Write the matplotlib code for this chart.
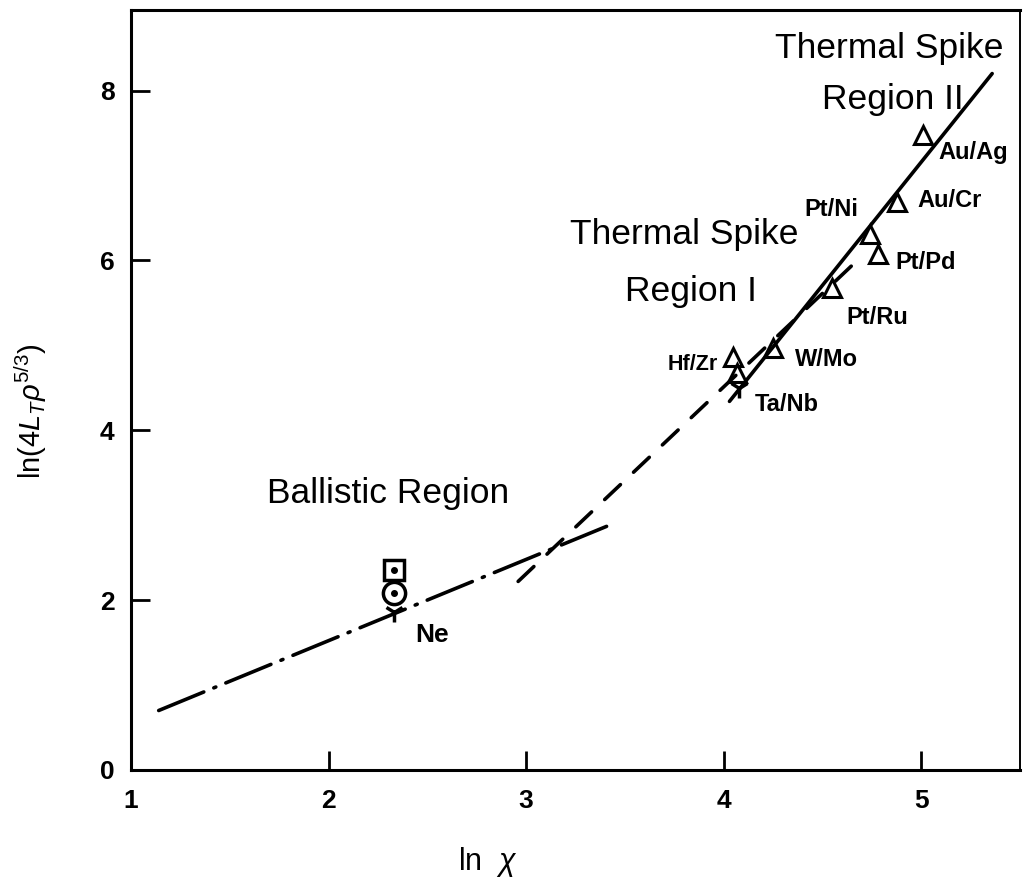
import numpy as np
import matplotlib
matplotlib.use("Agg")
import matplotlib.pyplot as plt

plt.rcParams['font.family'] = ['Liberation Sans', 'DejaVu Sans']
plt.rcParams['mathtext.fontset'] = 'custom'
plt.rcParams['mathtext.rm'] = 'Liberation Sans'
plt.rcParams['mathtext.it'] = 'Liberation Sans:italic'

# thermal spike data points (triangles)
pair_names = ['Hf/Zr', 'Hf/Zr', 'W/Mo', 'Pt/Ru', 'Pt/Pd', 'Pt/Ni', 'Au/Cr', 'Au/Ag']
pair_x = [4.05, 4.07, 4.25, 4.55, 4.78, 4.74, 4.88, 5.01]
pair_y = [4.86, 4.67, 4.97, 5.68, 6.08, 6.31, 6.69, 7.48]

# Ta/Nb and Ne (ballistic) points
tanb_x, tanb_y = 4.08, 4.50
ne_x = 2.33
ne_square_y = 2.36
ne_circle_y = 2.08
ne_star_y = 1.86

# fitted lines
ballistic_x = [1.14, 3.42]
ballistic_y = [0.70, 2.88]
region1_x = [2.96, 4.65]
region1_y = [2.22, 5.94]
region2_x = [4.03, 5.36]
region2_y = [4.34, 8.20]

fig = plt.figure(figsize=(10.27, 8.89), dpi=100)
ax = fig.add_axes([0.1276, 0.1339, 0.8654, 0.855])

lw = 2.6
ax.plot(ballistic_x, ballistic_y, color='black', lw=lw,
        dashes=(13.5, 3.0, 0.6, 3.0), solid_capstyle='round', dash_capstyle='round')
ax.plot(region1_x, region1_y, color='black', lw=lw,
        dashes=(6.0, 5.0), dash_capstyle='round')
ax.plot(region2_x, region2_y, color='black', lw=lw, solid_capstyle='round')

ax.plot(pair_x, pair_y, linestyle='none', marker='^', markersize=13,
        markerfacecolor='none', markeredgecolor='black', markeredgewidth=2.2)
ax.plot([tanb_x], [tanb_y], linestyle='none', marker='1', markersize=14,
        color='black', markeredgewidth=2.5)

# Ne points
ax.plot([ne_x], [ne_square_y], linestyle='none', marker='s', markersize=15,
        markerfacecolor='none', markeredgecolor='black', markeredgewidth=2.5)
ax.plot([ne_x], [ne_circle_y], linestyle='none', marker='o', markersize=16,
        markerfacecolor='none', markeredgecolor='black', markeredgewidth=2.5)
ax.plot([ne_x, ne_x], [ne_square_y, ne_circle_y], linestyle='none', marker='o',
        markersize=4, color='black')
ax.plot([ne_x], [ne_star_y], linestyle='none', marker='1', markersize=14,
        color='black', markeredgewidth=2.5)

# point labels
lab_kw = dict(fontsize=17, fontweight='bold', va='center')
ax.text(5.09, 7.27, 'Au/Ag', ha='left', **lab_kw)
ax.text(4.98, 6.70, 'Au/Cr', ha='left', **lab_kw)
ax.text(4.68, 6.60, 'Pt/Ni', ha='right', **lab_kw)
ax.text(4.87, 5.97, 'Pt/Pd', ha='left', **lab_kw)
ax.text(4.62, 5.33, 'Pt/Ru', ha='left', **lab_kw)
ax.text(4.36, 4.83, 'W/Mo', ha='left', **lab_kw)
ax.text(3.97, 4.78, 'Hf/Zr', ha='right', fontsize=15.5, fontweight='bold', va='center')
ax.text(4.16, 4.30, 'Ta/Nb', ha='left', **lab_kw)
ax.text(2.44, 1.59, 'Ne', ha='left', fontsize=19, fontweight='bold', va='center')

# region labels
reg_kw = dict(fontsize=25.5, va='center', ha='left')
ax.text(1.69, 3.26, 'Ballistic Region', **reg_kw)
ax.text(3.22, 6.31, 'Thermal Spike', **reg_kw)
ax.text(3.50, 5.63, 'Region I', **reg_kw)
ax.text(4.26, 8.50, 'Thermal Spike', **reg_kw)
ax.text(4.50, 7.90, 'Region II', **reg_kw)

ax.set_xlim(1.0, 5.5)
ax.set_ylim(0, 8.95)
ax.set_xticks([1, 2, 3, 4, 5])
ax.set_yticks([0, 2, 4, 6, 8])
ax.tick_params(direction='in', length=14, width=2, labelsize=19, top=False, right=False)
ax.tick_params(axis='x', pad=14)
ax.tick_params(axis='y', pad=12)
for lbl in ax.get_xticklabels() + ax.get_yticklabels():
    lbl.set_fontweight('bold')
for side in ['left', 'bottom', 'top']:
    ax.spines[side].set_linewidth(2.2)
ax.spines['right'].set_linewidth(1.4)

fig.text(0.475, 0.030, r'ln  $\chi$', fontsize=22, ha='center', va='center')
fig.text(0.030, 0.537, r'ln$(4L_T\rho^{5/3})$', fontsize=21, rotation=90,
         ha='center', va='center')

fig.savefig('out.png', dpi=100)
